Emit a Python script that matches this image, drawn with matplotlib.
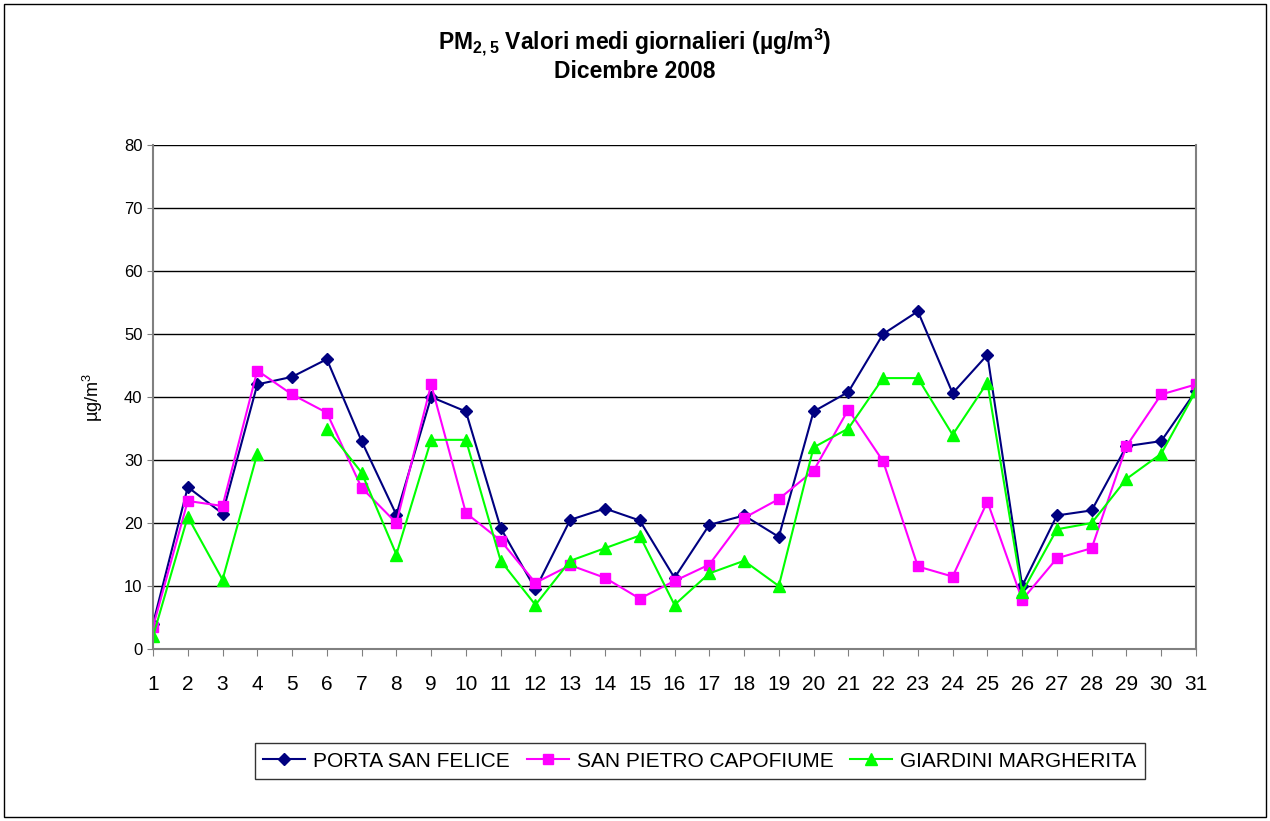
import numpy as np
import matplotlib
matplotlib.use('Agg')
import matplotlib.pyplot as plt
from matplotlib.patches import Rectangle

plt.rcParams['font.family'] = ['Liberation Sans', 'DejaVu Sans']
plt.rcParams['mathtext.default'] = 'regular'

# ── data ─────────────────────────────────────────────────────────────────────
days = list(range(1, 32))
porta_san_felice = [4, 25.7, 21.5, 42, 43.2, 46, 33, 21.3, 40, 37.7,
                    19.2, 9.5, 20.5, 22.3, 20.4, 11.3, 19.7, 21.2, 17.8, 37.7,
                    40.8, 50, 53.6, 40.6, 46.7, 10, 21.2, 22, 32.2, 33, 41]
san_pietro_capofiume = [3.5, 23.5, 22.7, 44.2, 40.4, 37.5, 25.6, 20, 42, 21.6,
                        17.2, 10.5, 13.3, 11.3, 8, 10.8, 13.4, 20.8, 23.8, 28.3,
                        38, 29.8, 13.1, 11.5, 23.4, 7.8, 14.4, 16, 32.2, 40.4, 42]
giardini_margherita = [2, 21, 11, 31, np.nan, 35, 28, 15, 33.2, 33.2,
                       14, 7, 14, 16, 18, 7, 12, 14, 10, 32,
                       35, 43, 43, 34, 42.3, 9, 19, 20, 27, 31, 41]
series_names = ["PORTA SAN FELICE", "SAN PIETRO CAPOFIUME", "GIARDINI MARGHERITA"]

W, H = 1270, 821
fig = plt.figure(figsize=(W / 100, H / 100), dpi=100)
ax = fig.add_axes([153 / W, 1 - 649 / H, (1196 - 153) / W, (649 - 145) / H])

ax.plot(days, porta_san_felice, color="#000080", marker="D", ms=6, lw=1.5,
        label=series_names[0])
ax.plot(days, san_pietro_capofiume, color="#FF00FF", marker="s", ms=7, lw=1.5,
        label=series_names[1])
ax.plot(days, giardini_margherita, color="#00FF00", marker="^", ms=8, lw=1.5,
        label=series_names[2])

ax.set_xlim(1, 31)
ax.set_ylim(0, 80)
ax.set_xticks(days)
ax.set_xticklabels([str(d) for d in days], fontsize=15)
ax.set_yticks(range(0, 81, 10))
ax.tick_params(axis='y', labelsize=12, length=4, color="#808080")
ax.tick_params(axis='x', length=5, color="#808080", pad=14)
ax.yaxis.grid(True, color="black", lw=1)
ax.set_axisbelow(True)
for s in ["left", "bottom", "right"]:
    ax.spines[s].set_color("#808080")
    ax.spines[s].set_linewidth(1.5)
ax.spines["top"].set_visible(False)
ax.set_ylabel("µg/m$^3$", fontsize=13, labelpad=14)

fig.text(0.5, 1 - 42 / H, "PM$_{2,5}$ Valori medi giornalieri (µg/m$^3$)",
         ha="center", va="center", fontsize=16.5, fontweight="bold")
fig.text(0.5, 1 - 72 / H, "Dicembre 2008",
         ha="center", va="center", fontsize=16.5, fontweight="bold")

leg = fig.legend(loc="center", bbox_to_anchor=(700 / W, 1 - 761 / H), ncol=3,
                 fontsize=15, frameon=True, fancybox=False, handlelength=2.0,
                 columnspacing=0.8, handletextpad=0.4, borderpad=0.4)
leg.get_frame().set_edgecolor("black")
leg.get_frame().set_linewidth(1)

fig.patches.append(Rectangle((4 / W, 4 / H), 1 - 8 / W, 1 - 8 / H,
                             transform=fig.transFigure, fill=False,
                             edgecolor="black", lw=1))

plt.savefig("out.png", dpi=100)
